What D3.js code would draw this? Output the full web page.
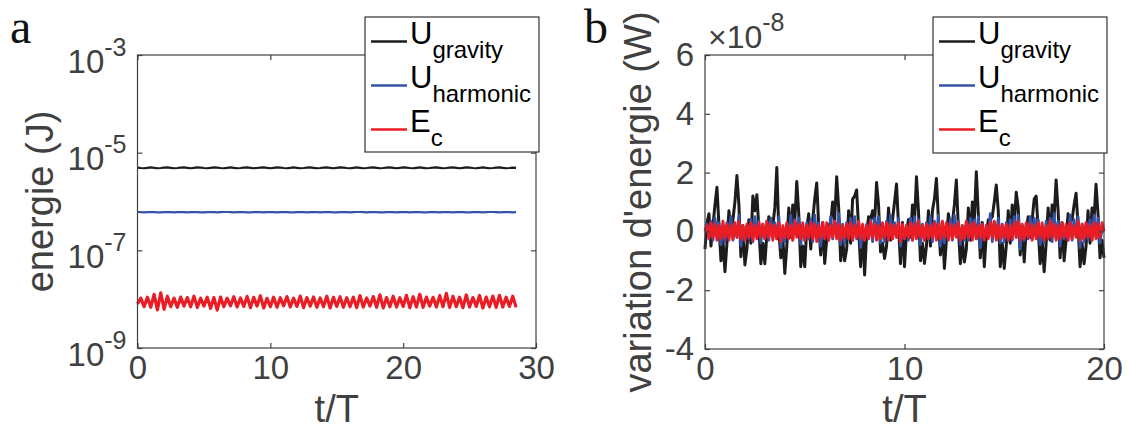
<!DOCTYPE html>
<html><head><meta charset="utf-8">
<script src="https://cdn.jsdelivr.net/npm/d3@7"></script>
<style>
body{margin:0;background:#fff}
svg{display:block}
</style>
</head><body>
<svg id="c" width="1128" height="428" font-family='"Liberation Sans",Arial,Helvetica,sans-serif'></svg>
<script>
// ---------------- DATA ----------------
// Panel a: energies vs t/T, sampled every 0.25 t/T
const dtA = 0.25;
const gravityA = [ // x1e-6 J
4.95,4.85,4.8,4.9,5.0,4.9,4.8,4.85,4.95,5.0,
4.9,4.8,4.85,4.95,5.0,4.9,4.8,4.9,5.0,4.95,
4.85,4.8,4.9,5.0,4.95,4.85,4.8,4.9,5.0,4.9,
4.8,4.85,4.95,5.0,4.9,4.8,4.85,4.95,5.0,4.9,
4.8,4.9,5.0,4.95,4.85,4.8,4.9,5.0,4.9,4.8,
4.85,4.95,5.0,4.9,4.8,4.85,4.95,5.0,4.9,4.8,
4.9,5.0,4.95,4.85,4.8,4.9,5.0,4.9,4.8,4.85,
4.95,5.0,4.9,4.8,4.85,4.95,5.0,4.9,4.8,4.9,
5.0,4.95,4.85,4.8,4.9,5.0,4.9,4.8,4.85,4.95,
5.0,4.9,4.8,4.85,4.95,5.0,4.9,4.8,4.9,5.0,
4.95,4.85,4.8,4.9,5.0,4.9,4.8,4.85,4.95,5.0,
4.9,4.8,4.85,4.95,4.9];
const harmonicA = [ // x1e-7 J
6.1,6.05,6.0,6.05,6.1,6.05,6.0,6.0,6.05,6.1,
6.05,6.0,6.05,6.1,6.05,6.0,6.05,6.1,6.05,6.0,
6.0,6.05,6.1,6.05,6.0,6.05,6.1,6.1,6.05,6.0,
6.05,6.1,6.05,6.0,6.0,6.05,6.1,6.05,6.0,6.05,
6.1,6.05,6.0,6.05,6.1,6.05,6.0,6.0,6.05,6.1,
6.05,6.0,6.05,6.1,6.05,6.0,6.05,6.1,6.05,6.0,
6.0,6.05,6.1,6.05,6.0,6.05,6.1,6.1,6.05,6.0,
6.05,6.1,6.05,6.0,6.0,6.05,6.1,6.05,6.0,6.05,
6.1,6.05,6.0,6.05,6.1,6.05,6.0,6.0,6.05,6.1,
6.05,6.0,6.05,6.1,6.05,6.0,6.05,6.1,6.05,6.0,
6.0,6.05,6.1,6.05,6.0,6.05,6.1,6.1,6.05,6.0,
6.05,6.1,6.05,6.0,6.05];
const kineticA = [ // x1e-9 J
8.0,10.5,7.0,11.0,6.8,12.5,6.0,13.5,6.2,11.5,
7.0,10.5,6.8,11.0,7.2,10.8,7.0,11.5,6.8,10.5,
7.2,11.0,6.5,10.8,6.0,11.0,7.0,10.5,7.3,11.2,
6.9,10.6,7.1,11.4,6.7,10.9,7.2,11.8,6.6,10.4,
7.0,11.0,6.8,10.7,7.3,11.3,6.9,10.5,7.1,11.6,
6.7,10.8,7.2,11.1,6.8,10.6,7.0,11.5,6.6,10.9,
7.1,11.2,6.8,10.7,7.0,11.0,6.7,11.8,6.9,10.6,
7.2,11.3,6.8,12.3,6.6,10.8,7.0,11.5,6.9,10.7,
7.1,12.0,6.7,11.2,6.9,12.6,6.8,11.0,7.2,10.9,
6.9,11.8,7.0,13.2,6.8,11.5,7.0,11.0,6.7,12.2,
6.9,10.8,7.1,11.9,6.6,11.0,7.0,11.6,6.8,12.0,
6.9,11.0,7.1,11.5,6.8];

// Panel b: energy variation vs t/T, sampled every 0.1 t/T
const dtB = 0.1;
const gravityB = [ // x1e-8 W
-0.6,0.3,0.6,-0.5,0.2,0.9,1.5,0.2,-1.0,-0.3,
-1.37,-0.4,0.7,0.0,0.4,1.0,1.9,0.9,-0.86,0.2,
-1.14,-0.6,0.4,-0.4,1.2,0.7,1.25,0.1,-1.1,-0.4,
-1.1,-0.1,0.5,0.3,0.2,0.8,2.17,0.0,-0.9,-0.2,
-1.43,-0.5,0.8,-0.2,0.9,0.3,1.7,0.6,-1.2,-0.5,
-1.2,0.1,0.6,-0.6,0.4,1.1,1.65,0.2,-0.8,0.3,
-1.09,-0.3,0.2,0.3,1.0,0.4,1.86,0.8,-1.0,-0.3,
-1.0,-0.6,0.7,-0.4,1.1,1.2,1.41,0.1,-1.2,0.2,
-1.48,-0.1,0.5,0.4,0.7,0.3,1.66,0.9,-0.7,-0.4,
-0.92,-0.5,0.8,-0.3,0.4,1.0,1.61,0.2,-1.1,0.3,
-1.2,0.0,0.4,-0.2,0.9,0.3,1.86,0.7,-1.0,-0.4,
-1.09,-0.5,0.7,-0.5,0.7,1.1,1.8,0.4,-0.8,0.2,
-1.26,-0.3,0.6,0.2,0.3,0.9,1.75,0.1,-1.1,-0.3,
-1.04,-0.6,0.8,-0.3,1.0,0.4,2.03,0.6,-0.9,0.3,
-1.2,-0.1,0.4,0.4,0.5,1.0,1.58,0.7,-1.2,-0.4,
-1.26,-0.5,0.7,-0.4,0.9,0.2,1.33,0.8,-0.8,0.2,
-1.04,0.1,0.5,-0.2,0.4,1.1,1.2,0.1,-1.1,-0.3,
-1.37,-0.4,0.8,-0.3,0.9,0.5,1.75,0.7,-0.9,0.3,
-1.0,-0.3,0.6,0.3,0.4,0.9,1.3,0.2,-1.2,-0.4,
-1.1,-0.5,0.7,-0.4,0.8,0.4,1.6,0.6,-0.9,-0.3,
-0.9];
const harmonicB = [ // x1e-8 W
0.0,0.25,-0.2,0.35,-0.3,0.45,-0.1,0.3,-0.45,0.2,
-0.35,0.3,-0.15,0.5,-0.3,0.25,-0.2,0.55,-0.5,0.15,
-0.3,0.2,-0.25,0.4,-0.35,0.5,-0.15,0.35,-0.4,0.25,
-0.25,0.35,-0.3,0.45,-0.2,0.3,-0.25,0.5,-0.55,0.1,
-0.35,0.25,-0.2,0.55,-0.3,0.4,-0.1,0.45,-0.45,0.2,
-0.3,0.3,-0.25,0.4,-0.35,0.55,-0.2,0.3,-0.5,0.15,
-0.25,0.2,-0.3,0.5,-0.25,0.35,-0.15,0.6,-0.45,0.25,
-0.4,0.3,-0.2,0.45,-0.3,0.5,-0.25,0.35,-0.55,0.1,
-0.3,0.25,-0.25,0.4,-0.35,0.45,-0.1,0.5,-0.4,0.2,
-0.35,0.35,-0.2,0.55,-0.25,0.3,-0.2,0.45,-0.5,0.15,
-0.25,0.2,-0.3,0.45,-0.3,0.5,-0.15,0.4,-0.45,0.25,
-0.3,0.3,-0.25,0.5,-0.35,0.35,-0.2,0.55,-0.5,0.1,
-0.4,0.25,-0.2,0.4,-0.3,0.55,-0.1,0.35,-0.45,0.2,
-0.3,0.35,-0.3,0.45,-0.25,0.4,-0.25,0.5,-0.55,0.15,
-0.25,0.2,-0.2,0.6,-0.35,0.3,-0.15,0.45,-0.4,0.25,
-0.35,0.3,-0.3,0.4,-0.3,0.5,-0.2,0.55,-0.6,0.1,
-0.3,0.25,-0.25,0.5,-0.25,0.45,-0.1,0.4,-0.45,0.2,
-0.4,0.35,-0.2,0.45,-0.35,0.6,-0.25,0.35,-0.5,0.15,
-0.25,0.2,-0.3,0.55,-0.3,0.4,-0.15,0.5,-0.55,0.25,
-0.35,0.3,-0.25,0.4,-0.3,0.55,-0.2,0.45,-0.4,0.1,
0.0];
const kineticB = [ // x1e-8 W
0.0,0.2,-0.25,0.3,-0.2,0.25,-0.3,0.2,-0.25,0.35,
-0.2,0.25,-0.3,0.2,-0.25,0.3,-0.2,0.35,-0.25,0.2,
-0.3,0.25,-0.2,0.3,-0.3,0.2,-0.25,0.3,-0.2,0.25,
-0.25,0.35,-0.2,0.25,-0.3,0.2,-0.25,0.3,-0.35,0.2,
-0.2,0.3,-0.25,0.2,-0.3,0.35,-0.2,0.25,-0.25,0.3,
-0.3,0.2,-0.2,0.3,-0.25,0.25,-0.35,0.2,-0.2,0.3,
-0.25,0.3,-0.3,0.2,-0.2,0.35,-0.25,0.25,-0.3,0.2,
-0.2,0.25,-0.25,0.3,-0.3,0.2,-0.2,0.35,-0.25,0.25,
-0.3,0.2,-0.25,0.35,-0.2,0.25,-0.3,0.2,-0.25,0.3,
-0.2,0.3,-0.3,0.25,-0.25,0.2,-0.2,0.3,-0.35,0.25,
-0.25,0.2,-0.2,0.3,-0.3,0.25,-0.25,0.35,-0.2,0.2,
-0.3,0.25,-0.25,0.2,-0.2,0.3,-0.3,0.25,-0.25,0.35,
-0.2,0.3,-0.3,0.25,-0.25,0.2,-0.2,0.3,-0.3,0.2,
-0.25,0.35,-0.2,0.25,-0.3,0.3,-0.25,0.2,-0.2,0.25,
-0.3,0.2,-0.25,0.3,-0.2,0.35,-0.3,0.25,-0.25,0.2,
-0.2,0.25,-0.3,0.2,-0.25,0.3,-0.2,0.35,-0.3,0.25,
-0.25,0.3,-0.2,0.25,-0.3,0.2,-0.25,0.3,-0.2,0.3,
-0.3,0.2,-0.25,0.35,-0.2,0.25,-0.3,0.2,-0.25,0.3,
-0.2,0.25,-0.3,0.3,-0.25,0.2,-0.2,0.35,-0.3,0.25,
-0.25,0.3,-0.2,0.2,-0.3,0.3,-0.25,0.25,-0.2,0.3,
0.0];

const xTicksA = [0, 10, 20, 30];
const yExpTicksA = [-9, -7, -5, -3];
const xTicksB = [0, 10, 20];
const yTicksB = [-4, -2, 0, 2, 4, 6];
const legendMain = ["U", "U", "E"];
const legendSub = ["gravity", "harmonic", "c"];
const seriesColors = ["#1c1c1c", "#3553a6", "#ec1c24"];

// ---------------- DRAWING ----------------
const svg = d3.select("#c");
const SANS = '"Liberation Sans",Arial,Helvetica,sans-serif';
const SERIF = '"Liberation Serif","Times New Roman",serif';
const TXT = "#404040", AX = "#404040";
const TICKFS = 33, LABFS = 38;

function styleAxis(g){
  g.attr("font-size", TICKFS).attr("font-family", SANS);
  g.select(".domain").remove();
  g.selectAll(".tick line").attr("stroke", AX).attr("stroke-width", 1.2);
  g.selectAll(".tick text").attr("fill", TXT);
}
function frame(P, x, y, xt, yt, yFmt){
  const g = svg.append("g");
  const gb = g.append("g").attr("transform", `translate(0,${P.b})`)
    .call(d3.axisBottom(x).tickValues(xt).tickSizeInner(-5).tickSizeOuter(0).tickPadding(8));
  styleAxis(gb);
  const gt = g.append("g").attr("transform", `translate(0,${P.t})`)
    .call(d3.axisTop(x).tickValues(xt).tickSizeInner(-5).tickSizeOuter(0).tickFormat(""));
  styleAxis(gt);
  const gl = g.append("g").attr("transform", `translate(${P.l},0)`)
    .call(d3.axisLeft(y).tickValues(yt).tickSizeInner(-5).tickSizeOuter(0).tickPadding(11).tickFormat(yFmt || (d=>d)));
  styleAxis(gl);
  const gr = g.append("g").attr("transform", `translate(${P.r},0)`)
    .call(d3.axisRight(y).tickValues(yt).tickSizeInner(-5).tickSizeOuter(0).tickFormat(""));
  styleAxis(gr);
  g.append("rect").attr("x", P.l).attr("y", P.t).attr("width", P.r - P.l).attr("height", P.b - P.t)
    .attr("fill", "none").attr("stroke", AX).attr("stroke-width", 1.2);
  return gl;
}
function legend(L){
  const g = svg.append("g").attr("font-family", SANS);
  g.append("rect").attr("x", L.x).attr("y", L.y).attr("width", L.w).attr("height", L.h)
    .attr("fill", "#fff").attr("stroke", "#333").attr("stroke-width", 1.2);
  legendMain.forEach((m, i) => {
    const ly = L.y + 24.5 + i * 44;
    g.append("line").attr("x1", L.x + 6).attr("x2", L.x + 42).attr("y1", ly).attr("y2", ly)
      .attr("stroke", seriesColors[i]).attr("stroke-width", 2.5);
    const t = g.append("text").attr("x", L.x + 45).attr("y", ly + 2).attr("fill", "#000").attr("font-size", 31);
    t.append("tspan").text(m);
    t.append("tspan").attr("dy", 14).attr("font-size", 24).text(legendSub[i]);
  });
}

// ----- Panel a -----
const PA = {l:137.5, r:536, t:55, b:348};
const xA = d3.scaleLinear().domain([0, 30]).range([PA.l, PA.r]);
const yA = d3.scaleLog().domain([1e-9, 1e-3]).range([PA.b, PA.t]);
const lineA = unit => d3.line().x((d, i) => xA(i * dtA)).y(d => yA(d * unit));
[[gravityA, 1e-6, 0, 2.2], [harmonicA, 1e-7, 1, 2.2], [kineticA, 1e-9, 2, 3.2]].forEach(([arr, u, ci, w]) => {
  svg.append("path").datum(arr).attr("d", lineA(u)).attr("fill", "none")
    .attr("stroke", seriesColors[ci]).attr("stroke-width", w).attr("stroke-linejoin", "round");
});
const glA = frame(PA, xA, yA, xTicksA, yExpTicksA.map(e => Math.pow(10, e)), () => "");
glA.selectAll(".tick text").attr("dy", null).attr("y", 17).each(function(d){
  const t = d3.select(this);
  t.append("tspan").text("10");
  t.append("tspan").attr("dy", -17).attr("font-size", 25).text(String(Math.round(Math.log10(d))));
});
svg.append("text").attr("transform", `translate(53,${(PA.t+PA.b)/2}) rotate(-90)`).attr("text-anchor", "middle")
  .attr("font-family", SANS).attr("font-size", LABFS).attr("fill", TXT).text("energie (J)");
svg.append("text").attr("x", (PA.l+PA.r)/2).attr("y", 421.5).attr("text-anchor", "middle")
  .attr("font-family", SANS).attr("font-size", LABFS).attr("fill", TXT).text("t/T");
legend({x:365, y:17, w:174, h:135});
svg.append("text").attr("x", 10).attr("y", 43).attr("font-family", SERIF)
  .attr("font-size", 48).attr("fill", "#111").text("a");

// ----- Panel b -----
const PB = {l:705, r:1104, t:55, b:349};
const xB = d3.scaleLinear().domain([0, 20]).range([PB.l, PB.r]);
const yB = d3.scaleLinear().domain([-4, 6]).range([PB.b, PB.t]);
const lineB = d3.line().x((d, i) => xB(i * dtB)).y(d => yB(d));
[[gravityB, 0, 3], [harmonicB, 1, 2.8], [kineticB, 2, 2.8]].forEach(([arr, ci, w]) => {
  svg.append("path").datum(arr).attr("d", lineB).attr("fill", "none")
    .attr("stroke", seriesColors[ci]).attr("stroke-width", w).attr("stroke-linejoin", "round");
});
frame(PB, xB, yB, xTicksB, yTicksB, d => String(d));
const ex = svg.append("text").attr("x", 708).attr("y", 48).attr("font-family", SANS).attr("font-size", 32).attr("fill", TXT);
ex.append("tspan").text("\u00d710");
ex.append("tspan").attr("dy", -17).attr("font-size", 25).text("-8");
svg.append("text").attr("transform", `translate(651,${(PB.t+PB.b)/2}) rotate(-90)`).attr("text-anchor", "middle")
  .attr("font-family", SANS).attr("font-size", LABFS).attr("fill", TXT).text("variation d'energie (W)");
svg.append("text").attr("x", (PB.l+PB.r)/2).attr("y", 421.5).attr("text-anchor", "middle")
  .attr("font-family", SANS).attr("font-size", LABFS).attr("fill", TXT).text("t/T");
legend({x:933, y:17, w:174, h:136});
svg.append("text").attr("x", 584).attr("y", 43).attr("font-family", SERIF)
  .attr("font-size", 48).attr("fill", "#111").text("b");
</script>
</body></html>
